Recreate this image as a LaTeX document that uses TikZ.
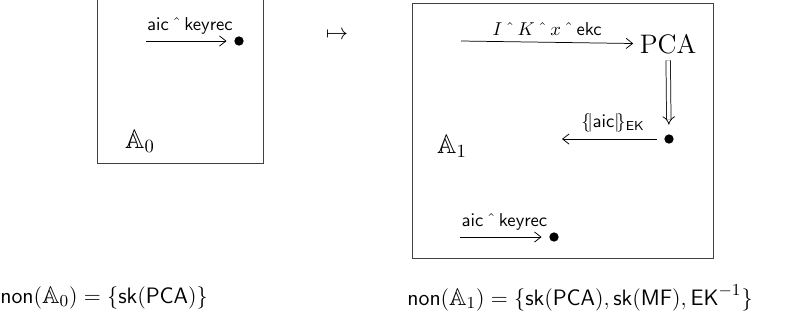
\documentclass[tikz,border=0pt]{standalone}
\usepackage{amssymb}
\usetikzlibrary{positioning,arrows.meta}

\newcommand{\cat}{\;\hat{\mkern5mu}\;}

\begin{document}
\begin{tikzpicture}[x=0.5376pt, y=-0.5376pt, >={Straight Barb[length=3.5pt,width=5.5pt]},
    lbl/.style={font=\normalsize, inner sep=3.5pt},
    dotnode/.style={circle, fill, inner sep=0pt, minimum size=5pt},
    frame/.style={draw=black!75, line width=0.5pt},
    setname/.style={anchor=west, inner sep=0pt, font=\fontsize{13}{16}\selectfont}]
    \useasboundingbox (0,0) rectangle (802,325);

    \draw [frame] (97,-5) rectangle (263,163);
    \draw [frame] (412,3) rectangle (713,258);

    \node (dotA) [dotnode] at (239,41) {};
    \coordinate (startA) at (146,41);
    \node (algA) at (140,141) {\Large $\mathbb{A}_0$};
    \node (mapsto) at (337,35) {\large $\mapsto$};

    \node (pca) at (668,44) {\Large PCA};
    \coordinate (startB) at (461,41);
    \node (dotB) [dotnode] at (669,139) {};
    \coordinate (endC) at (562,139);
    \node (algB) at (452,146) {\Large $\mathbb{A}_1$};
    \node (dotD) [dotnode] at (554,237) {};
    \coordinate (startD) at (460,237);

    \node (nonA) [setname] at (0,298) {$\mathsf{non}(\mathbb{A}_0) = \{\mathsf{sk}(\mathsf{PCA})\}$};
    \node (nonB) [setname] at (407,298) {$\mathsf{non}(\mathbb{A}_1) = \{\mathsf{sk}(\mathsf{PCA}), \mathsf{sk}(\mathsf{MF}), \mathsf{EK}^{-1}\}$};

    \draw [->, shorten >=4pt] (startA) -- node [above, lbl] {$\mathsf{aic}\cat\mathsf{keyrec}$} (dotA);
    \draw [->] (startB) -- node [above, lbl] {$I\cat K\cat x\cat\mathsf{ekc}$} (pca);
    \draw [double, double distance=2pt, -{Implies}, shorten >=5pt] (pca) -- (dotB);
    \draw [->, shorten <=4pt] (dotB) -- node [above, lbl] {$\{\!|\mathsf{aic}|\!\}_{\mathsf{EK}}$} (endC);
    \draw [->, shorten >=4pt] (startD) -- node [above, lbl] {$\mathsf{aic}\cat\mathsf{keyrec}$} (dotD);
\end{tikzpicture}
\end{document}
